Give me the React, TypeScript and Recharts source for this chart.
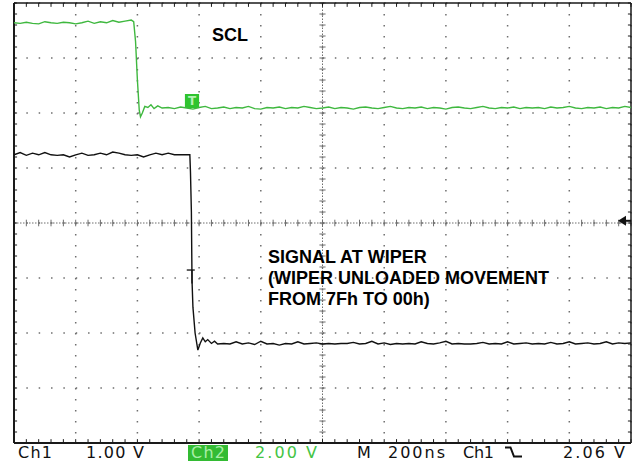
import React from 'react';
import {
  LineChart,
  Line,
  XAxis,
  YAxis,
  CartesianGrid,
  ReferenceLine,
  ReferenceArea,
  ReferenceDot
} from 'recharts';

// time in divisions (200ns/div), level in divisions
const sclTime = [
  0, 0.1, 0.2, 0.3, 0.4, 0.5, 0.6, 0.7, 0.8, 0.9, 1.0, 1.1, 1.2, 1.3, 1.4, 1.5, 1.6, 1.7, 1.8, 1.9, 1.94,
  1.97, 2.0, 2.03, 2.05, 2.08, 2.12, 2.17, 2.22, 2.27, 2.33, 2.4,
  2.5, 2.6, 2.7, 2.8, 2.9, 3.0, 3.1, 3.2, 3.3, 3.4,
  3.5, 3.6, 3.7, 3.8, 3.9, 4.0, 4.1, 4.2, 4.3, 4.4,
  4.5, 4.6, 4.7, 4.8, 4.9, 5.0, 5.1, 5.2, 5.3, 5.4,
  5.5, 5.6, 5.7, 5.8, 5.9, 6.0, 6.1, 6.2, 6.3, 6.4,
  6.5, 6.6, 6.7, 6.8, 6.9, 7.0, 7.1, 7.2, 7.3, 7.4,
  7.5, 7.6, 7.7, 7.8, 7.9, 8.0, 8.1, 8.2, 8.3, 8.4,
  8.5, 8.6, 8.7, 8.8, 8.9, 9.0, 9.1, 9.2, 9.3, 9.4,
  9.5, 9.6, 9.7, 9.8, 9.9, 10.0
];
const sclLevel = [
  3.64, 3.63, 3.65, 3.63, 3.62, 3.66, 3.64, 3.63, 3.65, 3.64, 3.62, 3.64, 3.67, 3.63, 3.66, 3.64, 3.68, 3.65, 3.67, 3.69, 3.66,
  3.3, 2.6, 2.05, 1.93, 2.0, 2.12, 2.1, 2.15, 2.08, 2.13, 2.09,
  2.10, 2.08, 2.11, 2.09, 2.07, 2.10, 2.12, 2.08, 2.09, 2.11,
  2.08, 2.10, 2.09, 2.12, 2.08, 2.07, 2.10, 2.09, 2.11, 2.08,
  2.10, 2.09, 2.12, 2.10, 2.08, 2.09, 2.11, 2.08, 2.10, 2.09,
  2.07, 2.10, 2.11, 2.09, 2.08, 2.10, 2.12, 2.09, 2.08, 2.10,
  2.09, 2.11, 2.08, 2.10, 2.09, 2.07, 2.10, 2.11, 2.09, 2.08,
  2.10, 2.12, 2.09, 2.08, 2.10, 2.09, 2.11, 2.08, 2.10, 2.09,
  2.10, 2.08, 2.11, 2.09, 2.10, 2.12, 2.09, 2.08, 2.10, 2.09,
  2.11, 2.08, 2.10, 2.09, 2.12, 2.10
];

const wiperTime = [
  0, 0.1, 0.2, 0.3, 0.4, 0.5, 0.6, 0.7, 0.8, 0.9, 1.0, 1.1, 1.2, 1.3, 1.4,
  1.5, 1.6, 1.7, 1.8, 1.9, 2.0, 2.1, 2.2, 2.3, 2.4, 2.5, 2.6, 2.7, 2.8, 2.85,
  2.86, 2.875, 2.885, 2.9, 2.935, 2.98, 3.02, 3.06, 3.1, 3.14, 3.2, 3.25, 3.3,
  3.4, 3.5, 3.6, 3.7, 3.8, 3.9, 4.0, 4.1, 4.2, 4.3,
  4.4, 4.5, 4.6, 4.7, 4.8, 4.9, 5.0, 5.1, 5.2, 5.3,
  5.4, 5.5, 5.6, 5.7, 5.8, 5.9, 6.0, 6.1, 6.2, 6.3,
  6.4, 6.5, 6.6, 6.7, 6.8, 6.9, 7.0, 7.1, 7.2, 7.3,
  7.4, 7.5, 7.6, 7.7, 7.8, 7.9, 8.0, 8.1, 8.2, 8.3,
  8.4, 8.5, 8.6, 8.7, 8.8, 8.9, 9.0, 9.1, 9.2, 9.3,
  9.4, 9.5, 9.6, 9.7, 9.8, 9.9, 10.0
];
const wiperLevel = [
  1.24, 1.28, 1.23, 1.27, 1.24, 1.28, 1.24, 1.23, 1.24, 1.20, 1.24, 1.27, 1.23, 1.24, 1.27,
  1.24, 1.29, 1.27, 1.24, 1.23, 1.24, 1.20, 1.24, 1.27, 1.24, 1.27, 1.24, 1.24, 1.24, 1.24,
  0.93, 0.2, -1.04, -1.53, -2.0, -2.31, -2.18, -2.09, -2.16, -2.12, -2.19, -2.15, -2.2,
  -2.19, -2.2, -2.16, -2.2, -2.18, -2.21, -2.15, -2.2, -2.19, -2.22,
  -2.19, -2.2, -2.16, -2.2, -2.19, -2.18, -2.2, -2.19, -2.2, -2.19,
  -2.19, -2.17, -2.2, -2.19, -2.15, -2.2, -2.18, -2.21, -2.19, -2.2,
  -2.19, -2.2, -2.16, -2.19, -2.2, -2.18, -2.15, -2.2, -2.19, -2.2,
  -2.2, -2.19, -2.17, -2.2, -2.19, -2.2, -2.16, -2.2, -2.19, -2.18,
  -2.2, -2.19, -2.2, -2.17, -2.2, -2.19, -2.16, -2.2, -2.19, -2.18,
  -2.2, -2.19, -2.16, -2.2, -2.18, -2.19, -2.18
];

const divX = [0, 1, 2, 3, 4, 5, 6, 7, 8, 9, 10];
const divY = [-4, -3, -2, -1, 0, 1, 2, 3, 4];

const sclData = sclTime.map((t, i) => ({ t, v: sclLevel[i] }));
const wiperData = wiperTime.map((t, i) => ({ t, v: wiperLevel[i] }));

// minor division marks (5 per division)
const minorX = Array.from({ length: 51 }, (_, i) => i * 0.2);
const minorY = Array.from({ length: 41 }, (_, i) => -4 + i * 0.2);

const GRID = '#6e6e6e';
const FRAME = '#1a1a1a';

const LeftArrow = (props: any) => {
  const { cx, cy } = props;
  return (
    <g>
      <path d={`M${cx - 13} ${cy} L${cx - 5} ${cy - 5} L${cx - 5} ${cy + 5} Z`} fill="#111" />
      <line x1={cx - 6} y1={cy} x2={cx} y2={cy} stroke="#111" strokeWidth={2} />
    </g>
  );
};

export default function App() {
  return (
    <div style={{ position: 'absolute', left: 0, top: 0, width: 636, height: 470, background: '#fff' }}>
      <LineChart width={636} height={470} margin={{ top: 3, right: 5, bottom: 27, left: 14 }}>
        <XAxis type="number" dataKey="t" domain={[0, 10]} ticks={divX} allowDataOverflow hide />
        <YAxis type="number" dataKey="v" domain={[-4, 4]} ticks={divY} allowDataOverflow hide />
        <CartesianGrid horizontal vertical={false} stroke={GRID} strokeWidth={1.5} strokeDasharray="1.5 10.84" />
        <CartesianGrid horizontal={false} vertical stroke={GRID} strokeWidth={1.5} strokeDasharray="1.5 9.5" />

        {/* centre cross */}
        <ReferenceLine y={0} stroke={GRID} strokeDasharray="1.5 1.5" />
        <ReferenceLine x={5} stroke={GRID} strokeDasharray="1.5 1.5" />
        {minorX.map((t) => (
          <ReferenceLine key={'cx' + t} segment={[{ x: t, y: -0.06 }, { x: t, y: 0.06 }]} stroke={GRID} />
        ))}
        {minorY.map((v) => (
          <ReferenceLine key={'cy' + v} segment={[{ x: 4.95, y: v }, { x: 5.05, y: v }]} stroke={GRID} />
        ))}

        {/* frame ticks */}
        {minorX.map((t) => (
          <ReferenceLine key={'tt' + t} segment={[{ x: t, y: 4 }, { x: t, y: 3.93 }]} stroke={FRAME} />
        ))}
        {minorX.map((t) => (
          <ReferenceLine key={'bt' + t} segment={[{ x: t, y: -4 }, { x: t, y: -3.93 }]} stroke={FRAME} />
        ))}
        {minorY.map((v) => (
          <ReferenceLine key={'lt' + v} segment={[{ x: 0, y: v }, { x: 0.05, y: v }]} stroke={FRAME} />
        ))}
        {minorY.map((v) => (
          <ReferenceLine key={'rt' + v} segment={[{ x: 10, y: v }, { x: 9.95, y: v }]} stroke={FRAME} />
        ))}

        {/* frame */}
        <ReferenceLine x={0} stroke={FRAME} strokeWidth={2} />
        <ReferenceLine x={10} stroke={FRAME} strokeWidth={1.5} />
        <ReferenceLine y={4} stroke={FRAME} strokeWidth={1.5} />
        <ReferenceLine y={-4} stroke={FRAME} strokeWidth={2} />

        <Line data={sclData} dataKey="v" type="linear" stroke="#3fb83f" strokeWidth={1.4} dot={false} isAnimationActive={false} />
        <Line data={wiperData} dataKey="v" type="linear" stroke="#111" strokeWidth={1.4} dot={false} isAnimationActive={false} />

        {/* trigger markers */}
        <ReferenceArea
          x1={2.77}
          x2={3.0}
          y1={2.09}
          y2={2.345}
          fill="#2fc42f"
          fillOpacity={1}
          stroke="none"
          label={{ value: 'T', position: 'center', fill: '#b6f2b6', fontSize: 12, fontWeight: 'bold', fontFamily: 'DejaVu Sans' }}
        />
        <ReferenceLine segment={[{ x: 2.8, y: -0.855 }, { x: 2.93, y: -0.855 }]} stroke="#111" strokeWidth={1.3} />
        <ReferenceLine segment={[{ x: 2.885, y: -0.855 }, { x: 2.885, y: -1.1 }]} stroke="#111" strokeWidth={1.3} />
        <ReferenceDot x={10} y={0.04} r={0} shape={LeftArrow} />
      </LineChart>

      <svg width={636} height={470} style={{ position: 'absolute', left: 0, top: 0, pointerEvents: 'none' }}>
        <g fontFamily="'Liberation Sans', Arial, sans-serif" fontWeight="bold" fontSize={18} fill="#000">
          <text x={212} y={41}>SCL</text>
          <text x={268} y={263}>SIGNAL AT WIPER</text>
          <text x={268} y={284}>(WIPER UNLOADED MOVEMENT</text>
          <text x={268} y={305}>FROM 7Fh TO 00h)</text>
        </g>
        <g fontFamily="'DejaVu Sans', sans-serif" fontSize={16} fill="#111">
          <text x={18} y={458} textLength={34} lengthAdjust="spacing">Ch1</text>
          <text x={86} y={458} textLength={58} lengthAdjust="spacing">1.00 V</text>
          <rect x={188} y={445} width={40} height={16} fill="#33bb33" />
          <text x={191} y={458} textLength={34} lengthAdjust="spacing" fill="#a8eea8">Ch2</text>
          <text x={255} y={458} textLength={62} lengthAdjust="spacing" fill="#44c444">2.00 V</text>
          <text x={357} y={458} textLength={12} lengthAdjust="spacing">M</text>
          <text x={388} y={458} textLength={57} lengthAdjust="spacing">200ns</text>
          <text x={463} y={458} textLength={31} lengthAdjust="spacing">Ch1</text>
          <path d="M505 447.5 H510.5 L514 456.5 H522" stroke="#111" strokeWidth={2} fill="none" />
          <text x={563} y={458} textLength={62} lengthAdjust="spacing">2.06 V</text>
        </g>
      </svg>
    </div>
  );
}
